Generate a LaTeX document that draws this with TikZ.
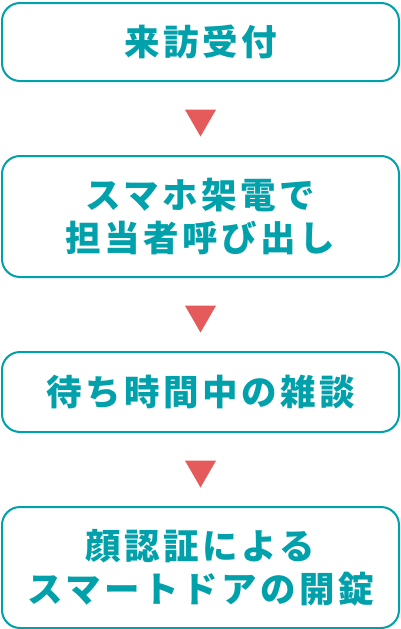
\documentclass[tikz,border=0pt]{standalone}
\usepackage{fontspec}
\newfontfamily\jp[LetterSpace=10]{Noto Sans CJK JP}
\usetikzlibrary{positioning,shapes.geometric}
\definecolor{teal}{RGB}{0,161,170}
\definecolor{mark}{RGB}{229,91,91}
\begin{document}
\begin{tikzpicture}[
  x=1pt, y=-1pt,
  block/.style={rectangle, rounded corners=18pt, draw=teal, line width=2pt, fill=white, minimum width=397pt, text=teal, align=center, font=\jp\bfseries\fontsize{35.5}{43}\selectfont},
  tri/.style={regular polygon, regular polygon sides=3, shape border rotate=180, fill=mark, inner sep=0pt, minimum size=36pt},
  node distance=73pt
]
\useasboundingbox (0,0) rectangle (401,629);
\node[block, minimum height=78pt] (recv) at (200.5,42) {来訪受付};
\node[block, minimum height=121pt, below=of recv] (call) {スマホ架電で\\担当者呼び出し};
\node[block, minimum height=80pt, below=of call] (wait) {待ち時間中の雑談};
\node[block, minimum height=121pt, below=of wait] (door) {顔認証による\\スマートドアの開錠};

% Markers
\path (recv) -- node[tri] (t1) {} (call);
\path (call) -- node[tri] (t2) {} (wait);
\path (wait) -- node[tri] (t3) {} (door);
\end{tikzpicture}
\end{document}
